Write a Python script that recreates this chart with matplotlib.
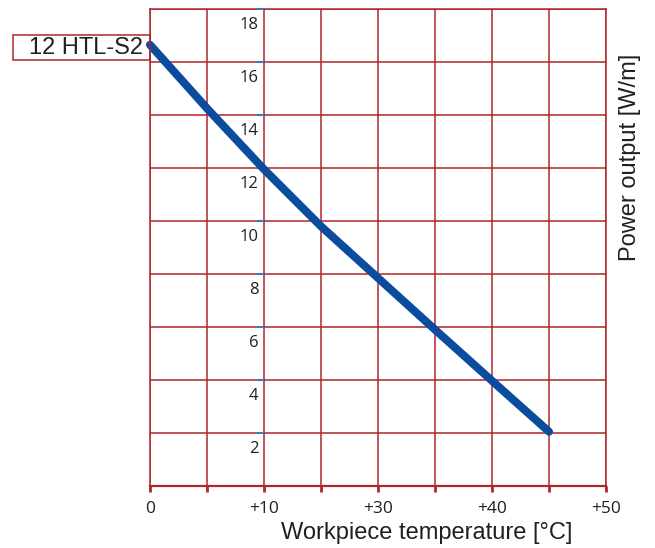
import matplotlib
matplotlib.use('Agg')
from matplotlib import pyplot as plt
from matplotlib import markers
from matplotlib.patches import Rectangle

# values
temp_pos = [0, 5, 10, 15, 20, 25, 30, 35]
power = [16.65, 14.25, 11.95, 9.8, 7.85, 5.9, 3.97, 2.05]
xtick_pos = [0, 10, 20, 30, 40]
xtick_labels = ['0', '+10', '+30', '+40', '+50']
ytick_vals = [2, 4, 6, 8, 10, 12, 14, 16, 18]
series_name = '12 HTL-S2'

grid_col = '#b0262c'
line_col = '#0b4c9f'
text_col = '#231f20'

fig = plt.figure(figsize=(6.55, 5.48), dpi=100)
ax = fig.add_axes([150/655, 1 - 486/548, 456/655, 477/548])

ax.set_xlim(0, 40)
ax.set_ylim(0, 18)
ax.set_xticks(range(0, 41, 5))
ax.set_xticklabels([xtick_labels[xtick_pos.index(v)] if v in xtick_pos else '' for v in range(0, 41, 5)],
                   fontsize=12.5, family='Open Sans', color=text_col)
ax.set_yticks(ytick_vals)
ax.set_yticklabels([])
ax.tick_params(axis='x', length=4, width=2, color=grid_col, pad=7)
ax.tick_params(axis='y', length=0)
ax.grid(True, color=grid_col, lw=1.1)
for s in ax.spines.values():
    s.set_color(grid_col)
    s.set_linewidth(1.1)
ax.spines['bottom'].set_linewidth(1.6)

# small blue marks + labels on the +10 grid line
ax.plot([10] * len(ytick_vals), ytick_vals, ls='none', marker=markers.TICKLEFT,
        markersize=5, markeredgewidth=1.5, color='#3a78c9', zorder=3, clip_on=False)
for v in ytick_vals:
    ax.annotate(str(v), xy=(10, v), xytext=(-4, -6), textcoords='offset points',
                ha='right', va='top', fontsize=12, family='Open Sans', color=text_col)

ax.plot(temp_pos, power, color=line_col, lw=5.8, solid_capstyle='round', zorder=4, clip_on=False)

# series label box
fig.patches.append(Rectangle((13/655, 1 - 60/548), 137/655, 25/548, transform=fig.transFigure,
                             fill=False, edgecolor=grid_col, lw=1.1))
fig.text(143/655, 1 - 48/548, series_name, ha='right', va='center', fontsize=17,
         family='Liberation Sans', color=text_col)

fig.text(427/655, 1 - 533/548, 'Workpiece temperature [°C]', ha='center', va='center',
         fontsize=17, family='Liberation Sans', color=text_col)
fig.text(630/655, 1 - 157/548, 'Power output [W/m]', ha='center', va='center', rotation=90,
         fontsize=17, family='Liberation Sans', color=text_col)

fig.savefig('out.png', dpi=100)
